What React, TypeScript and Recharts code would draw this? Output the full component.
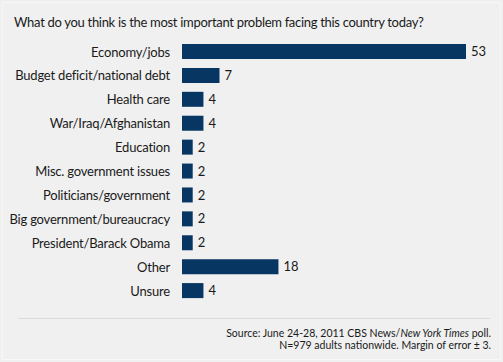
import { Bar, BarChart, LabelList, XAxis, YAxis } from "recharts";

const problems = [
  "Economy/jobs",
  "Budget deficit/national debt",
  "Health care",
  "War/Iraq/Afghanistan",
  "Education",
  "Misc. government issues",
  "Politicians/government",
  "Big government/bureaucracy",
  "President/Barack Obama",
  "Other",
  "Unsure",
];
const percents = [53, 7, 4, 4, 2, 2, 2, 2, 2, 18, 4];

const rows = problems.map((name, i) => ({ name, value: percents[i] }));

const font = "Lato, 'Open Sans', sans-serif";

// single-line tick so long names don't wrap
function NameTick(props: any) {
  const { x, y, payload } = props;
  return (
    <text x={x} y={y} dy="0.35em" textAnchor="end" fill="#1a1a1a" fontSize={13} fontFamily={font} letterSpacing={-0.2}>
      {payload.value}
    </text>
  );
}

export default function App() {
  return (
    <div
      style={{
        position: "absolute",
        left: 0,
        top: 0,
        width: 503,
        height: 362,
        background: "#f0f0f0",
        fontFamily: font,
        color: "#1a1a1a",
        overflow: "hidden",
      }}
    >
      <div style={{ position: "absolute", left: 2, top: 2, right: 2, bottom: 2, border: "1px solid #f7f7f7" }} />
      <div style={{ position: "absolute", left: 14, top: 14, fontSize: 13, letterSpacing: -0.3, whiteSpace: "nowrap" }}>
        What do you think is the most important problem facing this country today?
      </div>
      <BarChart
        width={503}
        height={362}
        data={rows}
        layout="vertical"
        margin={{ top: 40, right: 37, bottom: 59, left: 0 }}
        style={{ position: "absolute", left: 0, top: 0 }}
      >
        <XAxis type="number" hide domain={[0, 53]} />
        <YAxis
          type="category"
          dataKey="name"
          width={182}
          tickLine={false}
          axisLine={false}
          tickMargin={6}
          tick={<NameTick />}
          interval={0}
        />
        <Bar dataKey="value" fill="#083663" barSize={15} isAnimationActive={false}>
          <LabelList dataKey="value" position="right" offset={5} fill="#1a1a1a" fontSize={13} fontFamily={font} />
        </Bar>
      </BarChart>
      <div style={{ position: "absolute", left: 18, width: 472, top: 318, borderTop: "1px solid #dcdcdc" }} />
      <div
        style={{
          position: "absolute",
          right: 12,
          top: 327,
          fontSize: 10.5,
          lineHeight: "12px",
          textAlign: "right",
          whiteSpace: "nowrap",
        }}
      >
        Source: June 24-28, 2011 CBS News/<i>New York Times</i> poll.
        <br />
        N=979 adults nationwide. Margin of error ± 3.
      </div>
    </div>
  );
}
